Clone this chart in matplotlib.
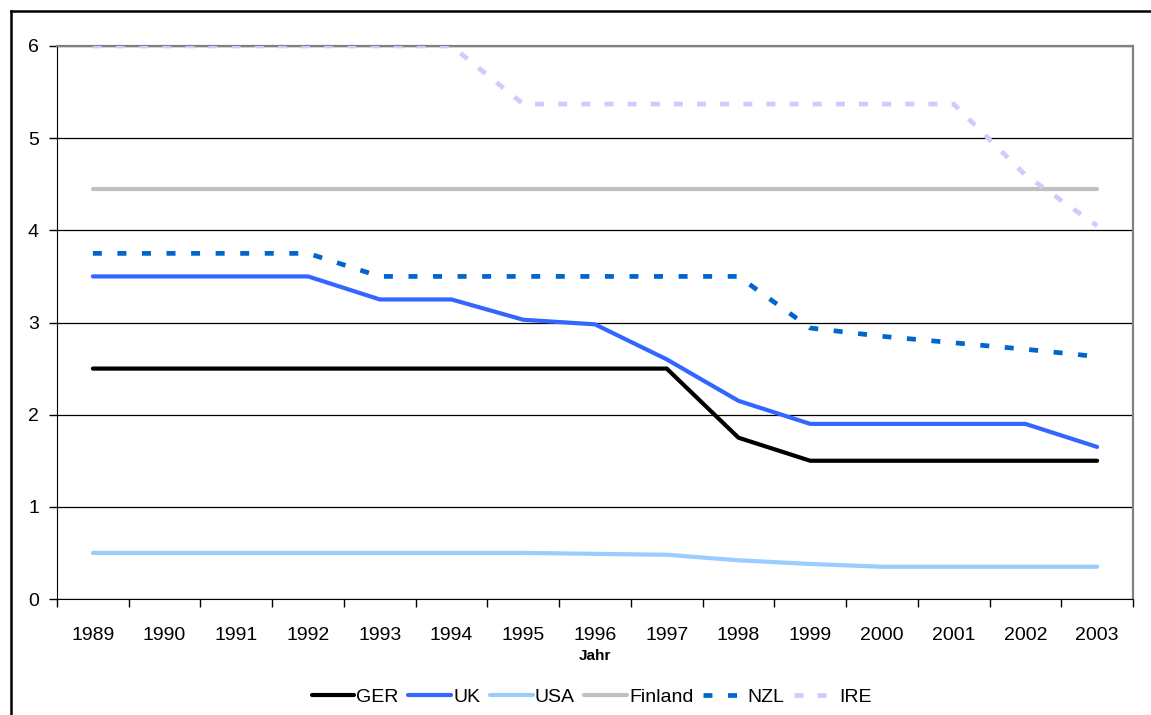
import matplotlib.pyplot as plt
from matplotlib.lines import Line2D

plt.rcParams['font.family'] = ['Liberation Sans', 'DejaVu Sans']

years = ['1989', '1990', '1991', '1992', '1993', '1994', '1995', '1996',
         '1997', '1998', '1999', '2000', '2001', '2002', '2003']

ger = [2.5, 2.5, 2.5, 2.5, 2.5, 2.5, 2.5, 2.5, 2.5, 1.75, 1.5, 1.5, 1.5, 1.5, 1.5]
uk = [3.5, 3.5, 3.5, 3.5, 3.25, 3.25, 3.03, 2.98, 2.6, 2.15, 1.9, 1.9, 1.9, 1.9, 1.65]
usa = [0.5, 0.5, 0.5, 0.5, 0.5, 0.5, 0.5, 0.49, 0.48, 0.42, 0.38, 0.35, 0.35, 0.35, 0.35]
finland = [4.45] * 15
nzl = [3.75, 3.75, 3.75, 3.75, 3.5, 3.5, 3.5, 3.5, 3.5, 3.5, 2.94, 2.85, 2.78, 2.71, 2.63]
ire = [6, 6, 6, 6, 6, 6, 5.37, 5.37, 5.37, 5.37, 5.37, 5.37, 5.37, 4.6, 4.05]

fig = plt.figure(figsize=(11.51, 7.15), dpi=100)
ax = fig.add_axes([57 / 1151, 1 - 599 / 715, (1133 - 57) / 1151, (599 - 46) / 715])

x = list(range(len(years)))

# gridlines first so the lines sit on top
ax.set_axisbelow(True)
ax.yaxis.grid(True, color='black', linewidth=0.9)

ax.plot(x, ger, color='black', lw=3, solid_capstyle='round', label='GER', zorder=3)
ax.plot(x, uk, color='#3366FF', lw=3, solid_capstyle='round', label='UK', zorder=3)
ax.plot(x, usa, color='#99CCFF', lw=3, solid_capstyle='round', label='USA', zorder=3)
ax.plot(x, finland, color='#C0C0C0', lw=3, solid_capstyle='round', label='Finland', zorder=3)
ax.plot(x, nzl, color='#0066CC', lw=3.4, dashes=(1.9, 3.3), dash_capstyle='butt', label='NZL', zorder=3)
ax.plot(x, ire, color='#CCCCFF', lw=3.4, dashes=(1.9, 3.0), dash_capstyle='butt', label='IRE', zorder=3)

ax.set_xlim(-0.5, 14.5)
ax.set_ylim(0, 6)
ax.set_yticks(range(7))
ax.set_xticks(x)
ax.set_xticklabels(years)
ax.set_xticks([i - 0.5 for i in range(16)], minor=True)
ax.tick_params(axis='x', which='major', length=0, pad=20, labelsize=14)
ax.tick_params(axis='x', which='minor', length=6, width=1, direction='out')
ax.tick_params(axis='y', length=6, width=1, direction='out', pad=7, labelsize=14)

ax.spines['left'].set_color('black')
ax.spines['bottom'].set_color('black')
ax.spines['top'].set_color('#808080')
ax.spines['right'].set_color('#808080')
ax.spines['top'].set_linewidth(1.6)
ax.spines['right'].set_linewidth(1.6)

ax.set_xlabel('Jahr', fontsize=11, fontweight='bold', labelpad=4)

fig.legend(loc='center', bbox_to_anchor=(0.514, 0.025), ncol=6, frameon=False,
           fontsize=14, handlelength=2.2, handletextpad=0.1, columnspacing=0.5)

# outer chart border (left and top edges visible)
fig.add_artist(Line2D([10.5 / 1151, 10.5 / 1151], [0, 1 - 11 / 715], color='black', lw=1.8,
                      transform=fig.transFigure))
fig.add_artist(Line2D([10.5 / 1151, 1], [1 - 11 / 715, 1 - 11 / 715], color='black', lw=1.8,
                      transform=fig.transFigure))

fig.savefig('out.png', dpi=100)
